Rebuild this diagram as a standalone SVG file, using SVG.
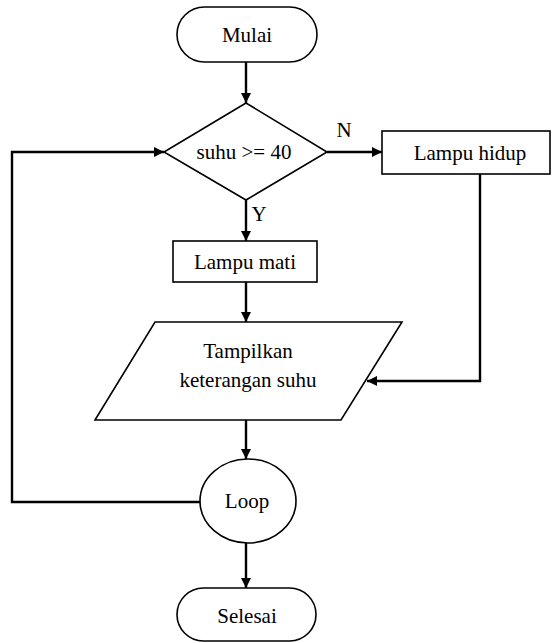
<svg xmlns="http://www.w3.org/2000/svg" width="552" height="643" viewBox="0 0 552 643">
<style>
.shape{fill:#fff;stroke:#000;stroke-width:1.6}
.conn{fill:none;stroke:#000;stroke-width:2.4}
text{font-family:"Liberation Serif","Times New Roman",serif;font-size:21px;fill:#000;text-anchor:middle}
</style>
<defs>
<marker id="arr" viewBox="0 0 10 10" refX="10" refY="5" markerWidth="10" markerHeight="10" markerUnits="userSpaceOnUse" orient="auto">
<path d="M0,0 L10,5 L0,10 z" fill="#000"/>
</marker>
</defs>
<rect width="552" height="643" fill="#fff"/>
<g id="connectors">
<line class="conn" x1="246" y1="62" x2="246" y2="103" marker-end="url(#arr)"/>
<line class="conn" x1="327" y1="152" x2="382" y2="152" marker-end="url(#arr)"/>
<line class="conn" x1="246" y1="200" x2="246" y2="241" marker-end="url(#arr)"/>
<line class="conn" x1="246" y1="282" x2="246" y2="322" marker-end="url(#arr)"/>
<polyline class="conn" points="480,174 480,381 367,381" marker-end="url(#arr)"/>
<line class="conn" x1="246" y1="420" x2="246" y2="459" marker-end="url(#arr)"/>
<polyline class="conn" points="200,502 12,502 12,152 164,152" marker-end="url(#arr)"/>
<line class="conn" x1="246" y1="543" x2="246" y2="588" marker-end="url(#arr)"/>
<text x="344" y="137">N</text>
<text x="259" y="221">Y</text>
</g>
<g id="mulai">
<rect class="shape" x="177" y="7" width="140" height="55" rx="27.5"/>
<text x="247" y="42">Mulai</text>
</g>
<g id="decision">
<polygon class="shape" points="246,103 327,152 246,200 164,152"/>
<text x="244" y="159">suhu &gt;= 40</text>
</g>
<g id="lampu-hidup">
<rect class="shape" x="382" y="131" width="168" height="43"/>
<text x="470" y="160">Lampu hidup</text>
</g>
<g id="lampu-mati">
<rect class="shape" x="173" y="241" width="144" height="41"/>
<text x="245" y="269">Lampu mati</text>
</g>
<g id="tampilkan">
<polygon class="shape" points="155,322 402,322 341,420 95,420"/>
<text x="248" y="358">Tampilkan</text>
<text x="248" y="387">keterangan suhu</text>
</g>
<g id="loop">
<ellipse class="shape" cx="248" cy="501" rx="48" ry="42"/>
<text x="247" y="508">Loop</text>
</g>
<g id="selesai">
<rect class="shape" x="177" y="588" width="139" height="53" rx="26.5"/>
<text x="247" y="623">Selesai</text>
</g>
</svg>
